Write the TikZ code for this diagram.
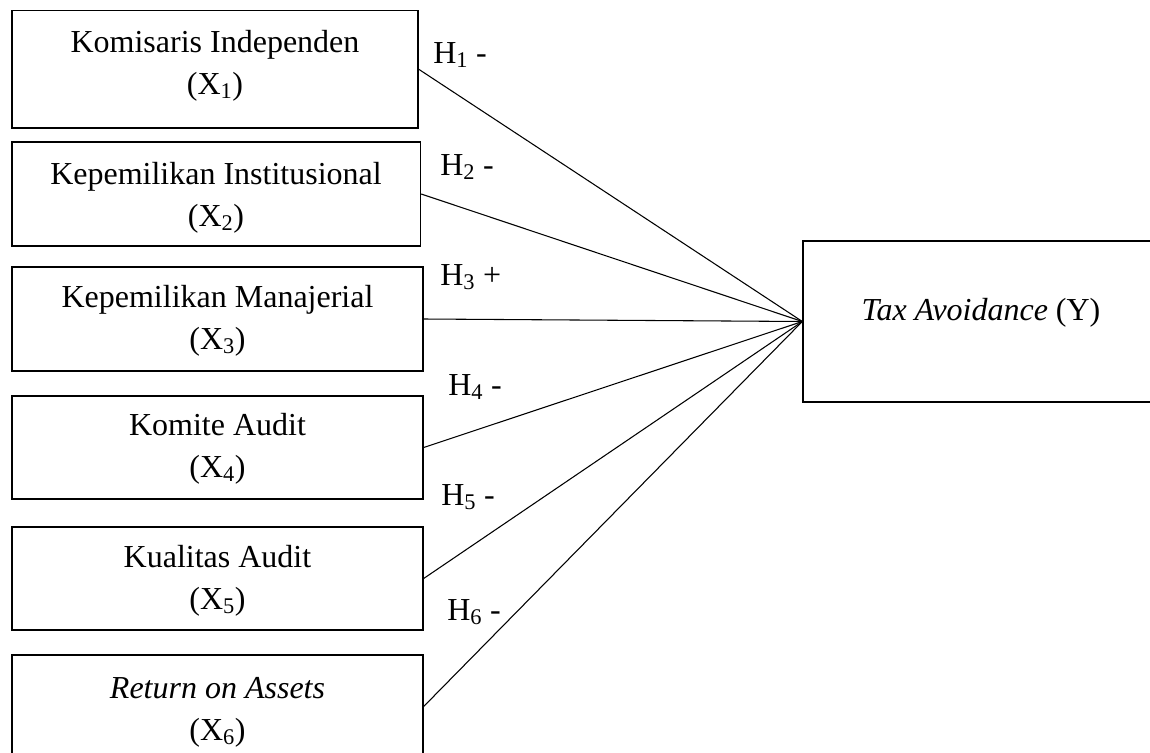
\documentclass[tikz,border=0pt]{standalone}
\usepackage{fontspec}
\setmainfont{Liberation Serif}
\begin{document}
\begin{tikzpicture}[x=0.75pt,y=-0.75pt,
  box/.style={draw,line width=1pt,rectangle,inner sep=0pt,minimum width=308.25pt,minimum height=77.25pt},
  txt/.style={align=center,anchor=base,inner sep=0pt,font=\fontsize{24}{31.5}\selectfont},
  hyp/.style={anchor=base west,inner sep=0pt,font=\fontsize{24}{31.5}\selectfont},
  link/.style={line width=0.8pt}]
\useasboundingbox (0,0) rectangle (1150,753);
\node[box,minimum width=304.7pt,minimum height=88pt] (x1) at (215,69.3) {};
\node[box,minimum width=306.4pt,minimum height=78pt] (x2) at (216.25,194) {};
\node[box,minimum height=78pt] (x3) at (217.5,319) {};
\node[box] (x4) at (217.5,447.5) {};
\node[box] (x5) at (217.5,578.5) {};
\node[box] (x6) at (217.5,706.5) {};
\node[box,minimum width=300pt,minimum height=120.75pt] (y) at (1003,321.5) {};
\node[txt] (t1) at (215,94) {Komisaris Independen\\(X\textsubscript{1})};
\node[txt] (t2) at (216,226) {Kepemilikan Institusional\\(X\textsubscript{2})};
\node[txt] (t3) at (217.5,349) {Kepemilikan Manajerial\\(X\textsubscript{3})};
\node[txt] (t4) at (217.5,477) {Komite Audit\\(X\textsubscript{4})};
\node[txt] (t5) at (217.5,609) {Kualitas Audit\\(X\textsubscript{5})};
\node[txt] (t6) at (217.5,740) {\textit{Return on Assets}\\(X\textsubscript{6})};
\node[txt] (ty) at (981,320) {\textit{Tax Avoidance} (Y)};
\node[hyp] (h1) at (433,63) {H\textsubscript{1} -};
\node[hyp] (h2) at (440,175) {H\textsubscript{2} -};
\node[hyp] (h3) at (440,285) {H\textsubscript{3} +};
\node[hyp] (h4) at (448,395) {H\textsubscript{4} -};
\node[hyp] (h5) at (441,505) {H\textsubscript{5} -};
\node[hyp] (h6) at (447,620) {H\textsubscript{6} -};
\foreach \i in {1,...,6} {\draw[link] (x\i.east) -- (y.west);}
\end{tikzpicture}
\end{document}
